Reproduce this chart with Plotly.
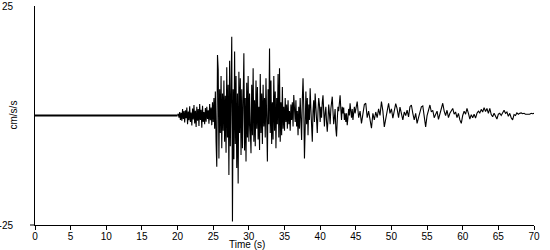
import numpy as np
import plotly.graph_objects as go

# ---- data ----
pre_time = [0.0, 19.9]
pre_accel = [0.0, 0.0]

fine_start = 20.0
fine_step = 0.1
# 20.0 .. 44.9 s, every 0.1 s (cm/s/s)
accel_fine = [
    0.0, 0.4, -0.5, 0.8, -1.0, 0.6, -1.2, 1.5, -0.8, 1.0,
    -1.6, 1.2, -0.6, 1.8, -2.0, 0.9, -1.1, 2.1, -1.5, 0.7,
    -2.3, 1.6, -0.9, 2.4, -1.8, 1.1, -2.6, 2.0, -1.2, 1.5,
    -2.4, 2.6, -1.0, 1.3, -2.8, 2.2, -1.5, 0.8, -2.0, 1.7,
    -1.4, 2.0, -0.8, 1.2, -1.9, 2.6, -1.1, 1.8, -2.2, 3.0,
    -1.5, 4.0, -3.0, 5.5, -6.0, -11.7, 13.8, 10.5, -9.8, 6.0,
    -4.0, 9.0, -7.5, 5.0, -3.5, 8.0, -6.0, 4.5, -8.5, 11.0,
    -5.0, 7.0, -13.6, 12.5, -7.0, 9.5, 18.0, -24.2, 6.0, -10.0,
    14.6, -6.5, 9.0, -12.0, 5.0, -15.5, 10.0, -4.0, 8.5, -9.0,
    6.0, -7.5, 11.0, 14.2, -8.0, 4.0, -10.5, 7.5, -5.0, 9.0,
    -6.0, 5.0, -3.0, -8.6, 7.0, -4.5, 10.8, -6.0, 3.5, -7.0,
    8.0, -3.0, 6.5, -5.5, 2.0, -7.9, 9.5, -4.0, 5.0, -6.5,
    7.0, -2.5, 4.0, -5.0, 8.5, -3.0, -10.5, 6.0, -2.0, 15.3,
    -4.0, 8.0, -6.5, 3.0, -5.5, 9.0, -3.5, 5.5, -7.5, 4.0,
    -2.0, 9.5, -5.0, 10.8, -6.0, 3.0, -4.5, 6.5, -3.0, 2.0,
    -3.5, 4.0, -1.5, 2.5, -3.0, 3.5, -2.0, 1.0, -3.5, 2.5,
    -1.0, 3.0, -2.5, 4.7, 2.0, -1.5, 3.5, -2.5, 1.0, -4.5,
    2.0, -3.0, 4.0, -2.0, -5.6, 3.5, 8.5, 2.0, -9.8, -3.0,
    5.5, -2.0, 4.0, -4.5, 2.5, -1.0, 6.2, 1.5, -3.5, -6.0,
    1.0, 3.5, -1.5, 5.0, 2.0, -2.5, -4.0, 1.0, 4.0, 2.5,
    -1.5, 2.0, -0.5, 3.0, 4.6, 1.0, -2.5, 0.5, 2.0, -1.5,
    -3.7, -1.0, 2.5, 0.5, -2.0, 1.5, 3.0, 4.3, 1.0, -2.0,
    -0.5, 1.5, -3.0, -4.8, -1.0, 2.0, 1.0, 3.5, 4.6, 1.5,
    -1.0, 2.0, 0.5, 1.8, -1.0, 0.5, -1.5, 0.5, -2.2, -0.5,
    1.5, 0.0, 2.8, 1.0, -0.5, 1.5, -1.0, 0.5, 2.0, 0.5,
]

coarse_start = 45.0
coarse_step = 0.2
# 45.0 .. 70.0 s, every 0.2 s (cm/s/s)
accel_coarse = [
    1.5, 3.2, -0.5, 1.0, -1.8,
    0.5, 2.5, 2.8, -0.5, 1.0,
    -1.5, -2.9, 0.5, -1.0, 0.8,
    -0.5, 1.5, 0.0, 3.2, 1.0,
    -2.6, -1.0, 1.2, 2.8, 0.5,
    1.5, -0.6, 0.8, 2.7, 1.5,
    -0.5, 1.9, 0.2, -1.0, 0.8,
    0.0, 1.2, -0.3, 2.0, 2.4,
    0.5, -1.0, 0.5, -1.8, -0.5,
    1.0, 2.0, 2.2, -0.5, -2.6,
    0.0, 1.3, 2.4, 0.8, 1.2,
    -0.5, 0.5, 1.0, -0.9, 0.5,
    1.5, 2.8, 1.0, 0.0, 1.2,
    -0.5, 0.5, 1.0, 1.6, 0.3,
    0.8, -0.5, 0.5, -1.0, -1.8,
    0.0, 1.0, 0.3, 1.6, 0.5,
    -0.8, 0.2, -0.5, 0.3, -0.6,
    0.5, 1.0, 0.6, 1.4, 0.8,
    1.8, 0.9, 1.6, 0.5, 1.6,
    0.2, -0.3, 0.5, -0.2, -0.8,
    0.3, 0.5, 0.0, 0.8, 1.2,
    0.5, 0.8, -0.2, 0.5, -0.5,
    -1.0, 0.2, 0.0, 0.6, 0.3,
    0.5, 0.6, 0.4, 0.5, 0.3,
    0.3, 0.4, 0.3, 0.5, 0.4,
    0.5,
]

x_ticks = [0, 5, 10, 15, 20, 25, 30, 35, 40, 45, 50, 55, 60, 65, 70]
y_ticks = [-25, 25]
x_title = "Time (s)"
y_title = "cm/s/s"

# ---- build series ----
t_fine = np.round(fine_start + np.arange(len(accel_fine)) * fine_step, 2)
t_coarse = np.round(coarse_start + np.arange(len(accel_coarse)) * coarse_step, 2)
time = np.concatenate([t_fine, t_coarse])
accel = np.concatenate([accel_fine, accel_coarse])

FONT = "Liberation Sans, Arial, sans-serif"

fig = go.Figure()
# quiet pre-event record (drawn a little heavier, as in the reference)
fig.add_trace(go.Scatter(
    x=list(pre_time) + [t_fine[0]], y=list(pre_accel) + [accel_fine[0]], mode="lines",
    line=dict(color="black", width=2),
    hoverinfo="skip", showlegend=False,
))
fig.add_trace(go.Scatter(
    x=time, y=accel, mode="lines",
    line=dict(color="black", width=1.1),
    hoverinfo="skip", showlegend=False,
))

W, H = 550, 250
L, R, T, B = 35, 16, 6, 25

fig.update_layout(
    width=W, height=H,
    margin=dict(l=L, r=R, t=T, b=B, pad=0, autoexpand=False),
    paper_bgcolor="white", plot_bgcolor="white",
    font=dict(family=FONT, size=10, color="black"),
    showlegend=False,
    xaxis=dict(
        range=[0, 70], tickvals=x_ticks, ticktext=[str(v) for v in x_ticks],
        showgrid=False, zeroline=False, showline=True, linecolor="black", linewidth=1,
        ticks="outside", ticklen=4, tickwidth=1, tickcolor="black",
        ticklabelstandoff=-2, automargin=False,
        tickfont=dict(family=FONT, size=10, color="black"),
    ),
    yaxis=dict(
        range=[-25, 25], tickvals=y_ticks, ticktext=[str(v) for v in y_ticks],
        showgrid=False, zeroline=False, showline=True, linecolor="black", linewidth=1,
        ticks="", ticklabelstandoff=19, automargin=False,
        tickfont=dict(family=FONT, size=10, color="black"),
    ),
    annotations=[
        dict(text=x_title, xref="paper", yref="paper", x=0.425, y=0,
             yshift=-19, xanchor="center", yanchor="middle", showarrow=False,
             font=dict(family=FONT, size=10, color="black")),
        dict(text=y_title, xref="paper", yref="paper", x=0, y=0.5,
             xshift=-22, xanchor="center", yanchor="middle", textangle=-90,
             showarrow=False, font=dict(family=FONT, size=10, color="black")),
    ],
    shapes=[
        dict(type="line", xref="paper", yref="paper", x0=-5 / (W - L - R), x1=0,
             y0=0, y1=0, line=dict(color="black", width=1)),
    ],
)

fig.write_html("out.html")
